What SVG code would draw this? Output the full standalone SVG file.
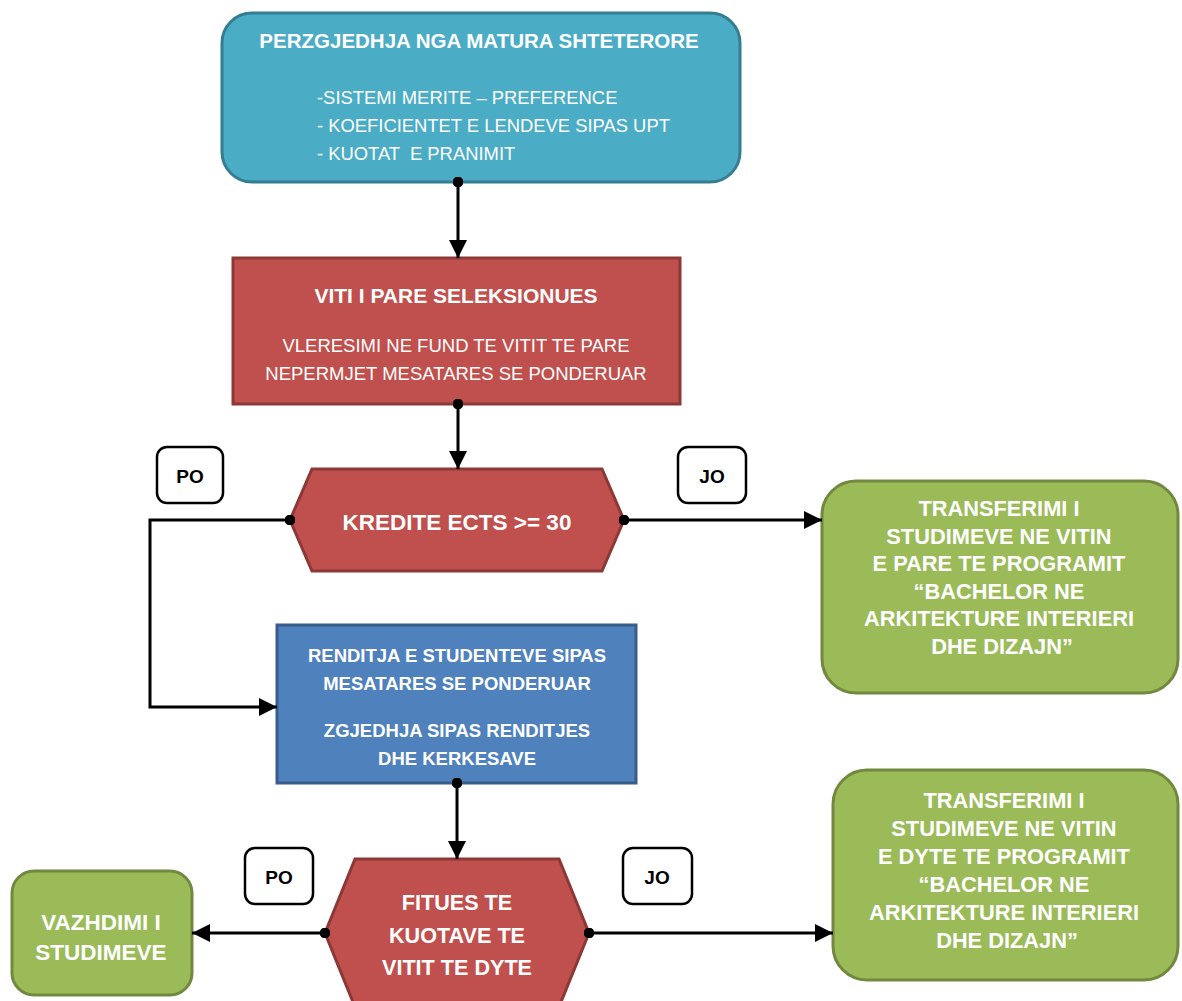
<svg xmlns="http://www.w3.org/2000/svg" width="1182" height="1001" viewBox="0 0 1182 1001">
<defs>
<style>
.t{font-family:"Liberation Sans",Arial,sans-serif;fill:#fff;text-anchor:middle;dominant-baseline:central}
.b{font-weight:bold}
.lbl{font-family:"Liberation Sans",Arial,sans-serif;fill:#000;font-weight:bold;font-size:19px;text-anchor:middle;dominant-baseline:central}
.lb{fill:#fff;stroke:#000;stroke-width:2.5}
.c{fill:none;stroke:#000;stroke-width:3}
.teal{fill:#4BACC6;stroke:#357D91;stroke-width:3}
.red{fill:#C0504D;stroke:#8C3836;stroke-width:3}
.green{fill:#9BBB59;stroke:#71893F;stroke-width:3}
.blue{fill:#4F81BD;stroke:#385D8A;stroke-width:3}
</style>
<marker id="ah" viewBox="0 0 10 10" refX="10" refY="5" markerWidth="6" markerHeight="6" markerUnits="strokeWidth" orient="auto">
<path d="M0,0 L10,5 L0,10 z" fill="#000"/>
</marker>
<marker id="dot" viewBox="0 0 10 10" refX="5" refY="5" markerWidth="3.6" markerHeight="3.6" markerUnits="strokeWidth">
<circle cx="5" cy="5" r="5" fill="#000"/>
</marker>
</defs>
<rect width="1182" height="1001" fill="#fff"/>

<g id="n-matura">
<rect class="teal" x="222" y="13" width="518" height="169" rx="30"/>
<text class="t b" x="479" y="40" font-size="20.5">PERZGJEDHJA NGA MATURA SHTETERORE</text>
<text class="t" x="317" y="97" font-size="18.4" style="text-anchor:start">-SISTEMI MERITE – PREFERENCE</text>
<text class="t" x="317" y="125" font-size="18.4" style="text-anchor:start">- KOEFICIENTET E LENDEVE SIPAS UPT</text>
<text class="t" x="317" y="153" font-size="18.4" style="text-anchor:start" xml:space="preserve">- KUOTAT  E PRANIMIT</text>
</g>

<g id="n-viti">
<rect class="red" x="233" y="258" width="447" height="146"/>
<text class="t b" x="456" y="295" font-size="21">VITI I PARE SELEKSIONUES</text>
<text class="t" x="456" y="345" font-size="18.5">VLERESIMI NE FUND TE VITIT TE PARE</text>
<text class="t" x="456" y="373" font-size="18.5">NEPERMJET MESATARES SE PONDERUAR</text>
</g>

<g id="n-kredite">
<polygon class="red" points="312,469 602,469 624,520 602,571 312,571 290,520"/>
<text class="t b" x="457" y="522" font-size="22.5">KREDITE ECTS &gt;= 30</text>
</g>

<g id="l-po1">
<rect class="lb" x="157" y="447" width="66" height="56" rx="10"/>
<text class="lbl" x="190" y="476">PO</text>
</g>
<g id="l-jo1">
<rect class="lb" x="678" y="447" width="68" height="56" rx="10"/>
<text class="lbl" x="712" y="476">JO</text>
</g>

<g id="n-transfer1">
<rect class="green" x="822" y="481" width="356" height="212" rx="34"/>
<text class="t b" font-size="21.8" x="1002">
<tspan x="1002" y="508">TRANSFERIMI I</tspan>
<tspan x="1002" y="535.5">STUDIMEVE NE VITIN</tspan>
<tspan x="1002" y="563">E PARE TE PROGRAMIT</tspan>
<tspan x="1002" y="590.5">“BACHELOR NE</tspan>
<tspan x="1002" y="618">ARKITEKTURE INTERIERI</tspan>
<tspan x="1002" y="645.5">DHE DIZAJN”</tspan>
</text>
</g>

<g id="n-renditja">
<rect class="blue" x="277" y="625" width="359" height="158"/>
<text class="t b" x="457" y="655" font-size="18.5">RENDITJA E STUDENTEVE SIPAS</text>
<text class="t b" x="457" y="683" font-size="18.5">MESATARES SE PONDERUAR</text>
<text class="t b" x="457" y="730" font-size="18.5">ZGJEDHJA SIPAS RENDITJES</text>
<text class="t b" x="457" y="758" font-size="18.5">DHE KERKESAVE</text>
</g>

<g id="n-fitues">
<polygon class="red" points="355,859 559,859 589,933 559,1007 355,1007 325,933"/>
<text class="t b" x="457" y="902" font-size="21.6">FITUES TE</text>
<text class="t b" x="457" y="935" font-size="21.6">KUOTAVE TE</text>
<text class="t b" x="457" y="967" font-size="21.6">VITIT TE DYTE</text>
</g>

<g id="l-po2">
<rect class="lb" x="245" y="848" width="68" height="56" rx="10"/>
<text class="lbl" x="279" y="877">PO</text>
</g>
<g id="l-jo2">
<rect class="lb" x="623" y="848" width="69" height="56" rx="10"/>
<text class="lbl" x="657" y="877">JO</text>
</g>

<g id="n-vazhdimi">
<rect class="green" x="12" y="871" width="180" height="124" rx="22"/>
<text class="t b" x="101" y="922" font-size="22.5">VAZHDIMI I</text>
<text class="t b" x="101" y="952" font-size="22.5">STUDIMEVE</text>
</g>

<g id="n-transfer2">
<rect class="green" x="833" y="770" width="345" height="210" rx="34"/>
<text class="t b" font-size="21.8" x="1007">
<tspan x="1007" y="800">TRANSFERIMI I</tspan>
<tspan x="1007" y="828">STUDIMEVE NE VITIN</tspan>
<tspan x="1007" y="855.5">E DYTE TE PROGRAMIT</tspan>
<tspan x="1007" y="883.5">“BACHELOR NE</tspan>
<tspan x="1007" y="912">ARKITEKTURE INTERIERI</tspan>
<tspan x="1007" y="940">DHE DIZAJN”</tspan>
</text>
</g>

<g id="connectors">
<path class="c" d="M458,182 L458,258" marker-start="url(#dot)" marker-end="url(#ah)"/>
<path class="c" d="M458,404 L458,469" marker-start="url(#dot)" marker-end="url(#ah)"/>
<path class="c" d="M290,520 L150,520 L150,707 L277,707" marker-start="url(#dot)" marker-end="url(#ah)"/>
<path class="c" d="M624,520 L822,520" marker-start="url(#dot)" marker-end="url(#ah)"/>
<path class="c" d="M457,783 L457,859" marker-start="url(#dot)" marker-end="url(#ah)"/>
<path class="c" d="M325,933 L192,933" marker-start="url(#dot)" marker-end="url(#ah)"/>
<path class="c" d="M589,933 L833,933" marker-start="url(#dot)" marker-end="url(#ah)"/>
</g>
</svg>
